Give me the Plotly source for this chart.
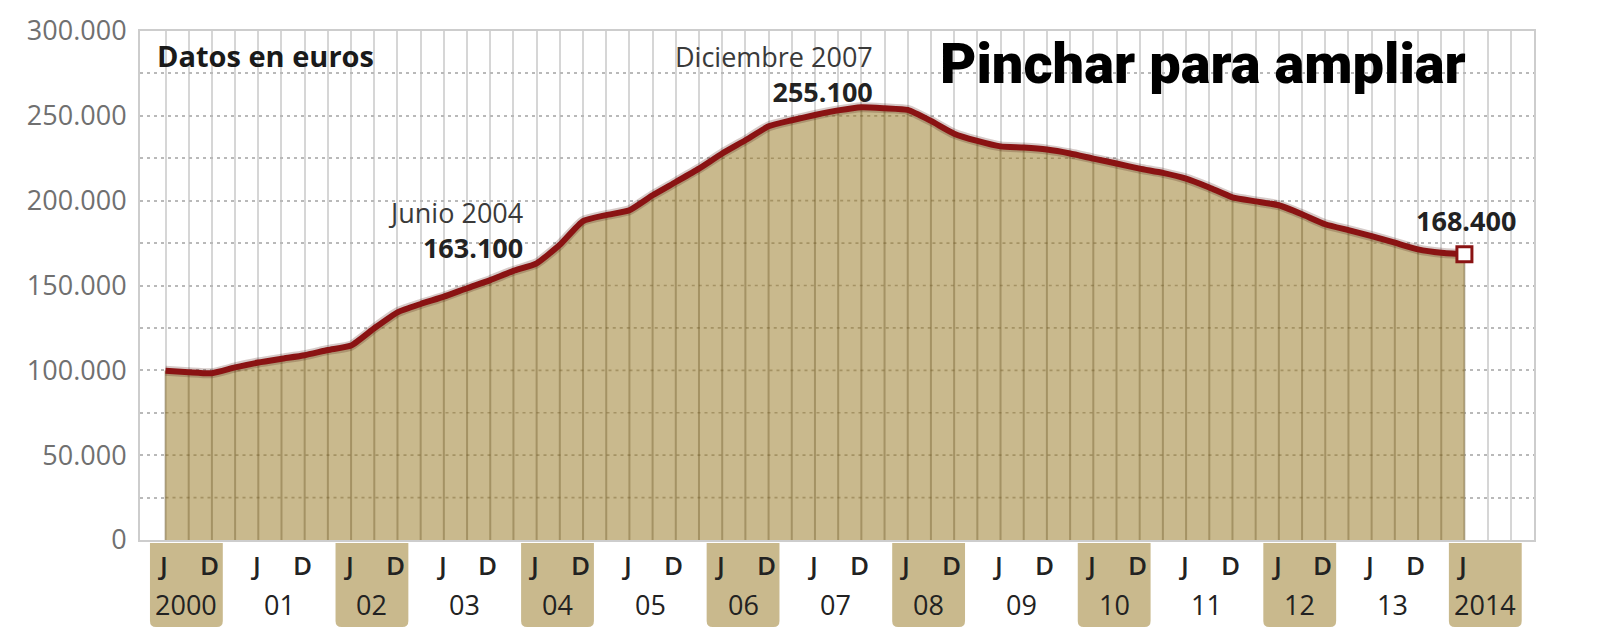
import plotly.graph_objects as go

# ---------------- data ----------------
# quarterly periods (year, month) from June 2000 to June 2014
periods = [(y, m) for y in range(2000, 2015) for m in (3, 6, 9, 12)
           if (2000, 6) <= (y, m) <= (2014, 6)]

prices = [
    99800, 98900, 98300, 101700, 104600, 106800, 108900, 112000, 114600,
    124800, 134200, 139100, 143400, 148400, 153200, 158600, 163100,
    174000, 188000, 191500, 194400, 203200, 211000, 218900, 227800,
    235600, 243800, 247400, 250500, 253200, 255100, 254500, 253500,
    247000, 239500, 235200, 232000, 231300, 230100, 227800, 224800,
    221900, 218900, 216400, 213000, 207800, 202000, 199600, 197300,
    192000, 186100, 182600, 179100, 175200, 171300, 169300, 168400,
]

year_labels = ["2000", "01", "02", "03", "04", "05", "06", "07",
               "08", "09", "10", "11", "12", "13", "2014"]
year_values = list(range(2000, 2015))
month_letters = {6: "J", 12: "D"}

y_tick_values = [0, 25000, 50000, 75000, 100000, 125000, 150000, 175000,
                 200000, 225000, 250000, 275000, 300000]
y_tick_labels = ["0", "", "50.000", "", "100.000", "", "150.000", "",
                 "200.000", "", "250.000", "", "300.000"]

highlights = [  # (period, first line, second line)
    ((2004, 6), "Junio 2004", "163.100"),
    ((2007, 12), "Diciembre 2007", "255.100"),
    ((2014, 6), None, "168.400"),
]

# ---------------- styling ----------------
TAN = "rgb(201,185,141)"
RED = "#8a1313"
INNER = "rgba(105,85,35,0.38)"
FONT = "Open Sans"

x = list(range(len(periods)))
pos = {p: i for i, p in enumerate(periods)}

fig = go.Figure()

# area
fig.add_trace(go.Scatter(x=x, y=prices, mode="lines", fill="tozeroy",
                         fillcolor=TAN, line=dict(width=0, color=TAN),
                         hoverinfo="skip", showlegend=False))

# inner grid: vertical lines inside the area
vx, vy = [], []
for i, v in zip(x, prices):
    vx += [i, i, None]
    vy += [0, v, None]
fig.add_trace(go.Scatter(x=vx, y=vy, mode="lines",
                         line=dict(color=INNER, width=2),
                         hoverinfo="skip", showlegend=False))


# inner grid: dotted horizontal lines inside the area
def segments_above(level):
    segs, start = [], None
    for i, v in enumerate(prices):
        above = v >= level
        if above and start is None:
            if i == 0:
                start = 0
            else:
                v0, v1 = prices[i - 1], v
                start = i - 1 + (level - v0) / (v1 - v0)
        elif not above and start is not None:
            v0, v1 = prices[i - 1], v
            segs.append((start, i - 1 + (v0 - level) / (v0 - v1)))
            start = None
    if start is not None:
        segs.append((start, len(prices) - 1))
    return segs


hx, hy = [], []
for lvl in y_tick_values[1:-1]:
    for a, b in segments_above(lvl):
        hx += [a, b, None]
        hy += [lvl, lvl, None]
fig.add_trace(go.Scatter(x=hx, y=hy, mode="lines",
                         line=dict(color=INNER, width=1.6, dash="3px,4px"),
                         hoverinfo="skip", showlegend=False))

# soft shadow + red line
fig.add_trace(go.Scatter(x=x, y=prices, mode="lines",
                         line=dict(color="rgba(70,20,10,0.22)", width=10,
                                   shape="spline", smoothing=0.5),
                         hoverinfo="skip", showlegend=False))
fig.add_trace(go.Scatter(x=x, y=prices, mode="lines",
                         line=dict(color=RED, width=6, shape="spline",
                                   smoothing=0.5),
                         showlegend=False))

# last point marker
fig.add_trace(go.Scatter(x=[x[-1]], y=[prices[-1]], mode="markers",
                         marker=dict(symbol="square", size=15, color="white",
                                     line=dict(color=RED, width=3)),
                         showlegend=False))

annotations = []
shapes = []

# highlighted values
hl_offsets = {0: (-12, 33), 1: (14, 33), 2: (54, 34)}
for k, (per, l1, l2) in enumerate(highlights):
    i = pos[per]
    xs, ys = hl_offsets[k]
    txt = f"<b>{l2}</b>"
    if l1:
        txt = f"<span style='color:#3a3a3a'>{l1}</span><br>" + txt
    annotations.append(dict(x=i, y=prices[i], xref="x", yref="y",
                            text=txt, showarrow=False, xanchor="right",
                            yanchor="middle", align="right",
                            xshift=xs, yshift=ys,
                            font=dict(family=FONT, size=27, color="#222")))

# x axis labels (J / D and years) with shaded boxes
row1_y, row2_y = -0.049, -0.126
box_top, box_bot = -0.006, -0.171
rx, ry = 0.26, 0.012
for k, (yr, lab) in enumerate(zip(year_values, year_labels)):
    j = pos.get((yr, 6))
    for m, letter in month_letters.items():
        if (yr, m) in pos:
            annotations.append(dict(x=pos[(yr, m)] - 0.1, y=row1_y, xref="x",
                                    yref="paper", text=letter,
                                    showarrow=False, xanchor="center",
                                    yanchor="middle",
                                    font=dict(family=FONT, size=26,
                                              color="#222", weight=600)))
    annotations.append(dict(x=j + 0.9, y=row2_y, xref="x", yref="paper",
                            text=lab, showarrow=False, xanchor="center",
                            yanchor="middle",
                            font=dict(family=FONT, size=27, color="#222",
                                      weight=500)))
    if k % 2 == 0:
        x0, x1 = j - 0.67, j + 2.47
        path = (f"M {x0},{box_top} L {x1},{box_top} L {x1},{box_bot + ry} "
                f"Q {x1},{box_bot} {x1 - rx},{box_bot} L {x0 + rx},{box_bot} "
                f"Q {x0},{box_bot} {x0},{box_bot + ry} Z")
        shapes.append(dict(type="path", path=path, xref="x", yref="paper",
                           fillcolor=TAN, line=dict(width=0), layer="below"))

# titles inside the plot
annotations.append(dict(x=0.011, y=0.952, xref="paper", yref="paper",
                        text="Datos en euros", showarrow=False,
                        xanchor="left", yanchor="middle",
                        font=dict(family=FONT, size=29, color="#1a1a1a",
                                  weight=700)))
annotations.append(dict(x=0.9525, y=0.935, xref="paper", yref="paper",
                        text="Pinchar para ampliar", showarrow=False,
                        xanchor="right", yanchor="middle",
                        font=dict(family="Roboto", size=56, color="#000",
                                  weight=900)))

fig.update_layout(
    width=1600, height=635,
    margin=dict(l=140, r=66, t=31, b=95),
    paper_bgcolor="white", plot_bgcolor="white",
    annotations=annotations, shapes=shapes,
    xaxis=dict(range=[-1.1, 59.0], tickmode="array",
               tickvals=list(range(0, 59)), showticklabels=False,
               ticks="", showgrid=True, gridcolor="rgb(214,214,214)",
               gridwidth=2, zeroline=False, showline=True, mirror=True,
               linecolor="rgb(205,205,205)", linewidth=2),
    yaxis=dict(range=[0, 300000], tickmode="array",
               tickvals=y_tick_values, ticktext=y_tick_labels,
               showgrid=True, gridcolor="rgb(185,185,185)", gridwidth=1.6,
               griddash="3px,4px", zeroline=False, showline=True,
               mirror=True, linecolor="rgb(205,205,205)", linewidth=2,
               ticks="", ticklabelstandoff=6,
               tickfont=dict(family=FONT, size=27, color="#707070")),
)

fig.write_html(
    "out.html",
    config={"displayModeBar": False},
    post_script="document.body.style.margin='0';"
                "document.body.style.overflow='hidden';",
)
